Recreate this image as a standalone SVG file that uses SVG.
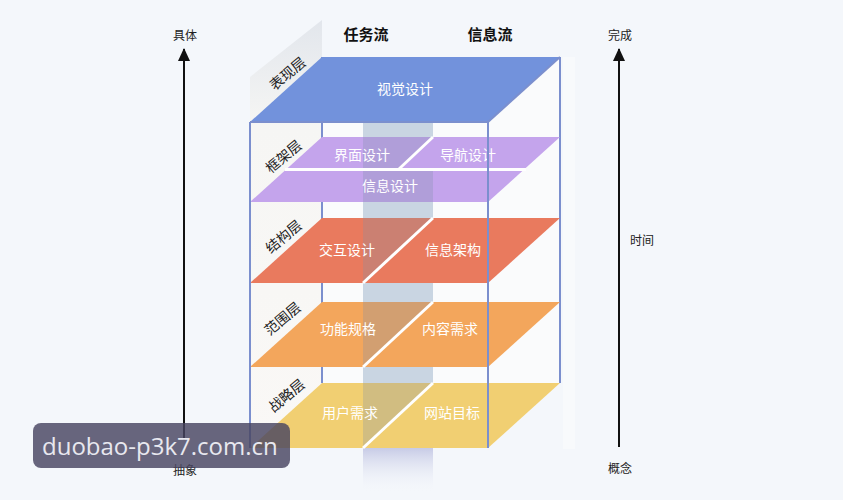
<svg xmlns="http://www.w3.org/2000/svg" width="843" height="500" viewBox="0 0 843 500">
<defs>
<style>
.bg{fill:#f4f7fb}
.edge{stroke:#7b8fce;stroke-width:2;fill:none}
.axis{stroke:#111;stroke-width:2;fill:none}
.lt{font-family:"Noto Sans CJK SC","Noto Sans",sans-serif;font-size:14px;fill:#ffffff;text-anchor:middle;dominant-baseline:central}
.side{font-family:"Noto Sans CJK SC","Noto Sans",sans-serif;font-size:14px;fill:#222;text-anchor:middle;dominant-baseline:central}
.ax{font-family:"Noto Sans CJK SC","Noto Sans",sans-serif;font-size:12px;fill:#222;text-anchor:middle;dominant-baseline:central}
.hd{font-family:"Noto Sans CJK SC","Noto Sans",sans-serif;font-size:15px;font-weight:bold;fill:#111;text-anchor:middle;dominant-baseline:central}
.div{stroke:#ffffff;stroke-width:3;fill:none}
.shade{fill:#7d8ea8;opacity:0.28}
</style>
<linearGradient id="wallG" x1="0" y1="0" x2="0" y2="1" gradientUnits="objectBoundingBox">
<stop offset="0" stop-color="#e2e6ec"/>
<stop offset="0.25" stop-color="#f6f6f4"/>
<stop offset="1" stop-color="#faf8f6"/>
</linearGradient>
<linearGradient id="bandFade" x1="0" y1="0" x2="0" y2="1">
<stop offset="0" stop-color="#c7cbe6"/>
<stop offset="1" stop-color="#f4f7fb" stop-opacity="0"/>
</linearGradient>
<marker id="arr" viewBox="0 0 13 12" refX="12" refY="6" markerWidth="13" markerHeight="12" markerUnits="userSpaceOnUse" orient="auto">
<path d="M0,0 L13,6 L0,12 Z" fill="#111"/>
</marker>
</defs>
<rect class="bg" x="0" y="0" width="843" height="500"/>

<g id="cube-back">
<polygon points="250,123 322,57 560,57 560,383 488,448 250,448" fill="#fafbfc"/>
<polygon points="250,77 322,20 322,383 250,448" fill="url(#wallG)"/>
<rect x="563" y="57" width="12" height="392" fill="#ffffff" opacity="0.35"/>
<rect x="363" y="60" width="70" height="388" fill="#c9d5e2"/>
<rect x="363" y="448" width="70" height="45" fill="url(#bandFade)"/>
<line class="edge" x1="322" y1="57" x2="322" y2="383"/>
<line class="edge" x1="560" y1="57" x2="560" y2="383"/>
</g>

<g id="layer-zhanlue">
<polygon points="322,383 560,383 488,448 250,448" fill="#f1cf72"/>
<polygon class="shade" points="363,383 433,383 363,448"/>
<line class="div" x1="433" y1="383" x2="363" y2="448"/>
<text class="lt" x="350" y="412">用户需求</text>
<text class="lt" x="452" y="412">网站目标</text>
</g>

<g id="layer-fanwei">
<polygon points="322,302 560,302 488,367 250,367" fill="#f3a65c"/>
<polygon class="shade" points="363,302 433,302 363,367"/>
<line class="div" x1="433" y1="302" x2="363" y2="367"/>
<text class="lt" x="348" y="328">功能规格</text>
<text class="lt" x="450" y="328">内容需求</text>
</g>

<g id="layer-jiegou">
<polygon points="322,218 560,218 488,283 250,283" fill="#e97a5e"/>
<polygon class="shade" points="363,218 433,218 363,283"/>
<line class="div" x1="433" y1="218" x2="363" y2="283"/>
<text class="lt" x="347" y="249">交互设计</text>
<text class="lt" x="453" y="249">信息架构</text>
</g>

<g id="layer-kuangjia">
<polygon points="322,137 560,137 488,202 250,202" fill="#c4a4ec"/>
<polygon class="shade" points="363,137 433,137 401,169 363,169"/>
<rect class="shade" x="363" y="170" width="70" height="32"/>
<line class="div" x1="285" y1="169.5" x2="526" y2="169.5"/>
<line class="div" x1="433" y1="137" x2="399" y2="169"/>
<text class="lt" x="362" y="154">界面设计</text>
<text class="lt" x="468" y="154">导航设计</text>
<text class="lt" x="390" y="185">信息设计</text>
</g>

<g id="layer-biaoxian">
<polygon points="322,57 560,57 488,122 250,122" fill="#7292dc"/>
<text class="lt" x="405" y="88">视觉设计</text>
</g>

<g id="cube-front">
<line class="edge" x1="250" y1="122" x2="250" y2="448"/>
<line class="edge" x1="488" y1="122" x2="488" y2="448"/>
<line class="edge" x1="250" y1="122" x2="488" y2="122"/>
<line class="edge" x1="488" y1="122" x2="560" y2="57"/>
</g>

<g id="side-labels">
<text class="side" transform="translate(287,73) rotate(-40)">表现层</text>
<text class="side" transform="translate(283,156) rotate(-40)">框架层</text>
<text class="side" transform="translate(283,236) rotate(-40)">结构层</text>
<text class="side" transform="translate(282,318) rotate(-40)">范围层</text>
<text class="side" transform="translate(286,395) rotate(-40)">战略层</text>
</g>

<g id="headers">
<text class="hd" x="366" y="33">任务流</text>
<text class="hd" x="490" y="33">信息流</text>
</g>

<g id="connectors">
<line class="axis" x1="184" y1="440" x2="184" y2="49" marker-end="url(#arr)"/>
<line class="axis" x1="619" y1="447" x2="619" y2="49" marker-end="url(#arr)"/>
</g>

<g id="axis-labels">
<text class="ax" x="185" y="34">具体</text>
<text class="ax" x="185" y="469">抽象</text>
<text class="ax" x="620" y="34">完成</text>
<text class="ax" x="620" y="467">概念</text>
<text class="ax" x="642" y="239">时间</text>
</g>

<g id="watermark">
<rect x="33" y="423" width="257" height="45" rx="8" fill="#484460" opacity="0.82"/>
<text x="42" y="455" font-family="'Open Sans','Noto Sans',sans-serif" font-size="24" fill="#e8e8ef">duobao-p3k7.com.cn</text>
</g>
</svg>
